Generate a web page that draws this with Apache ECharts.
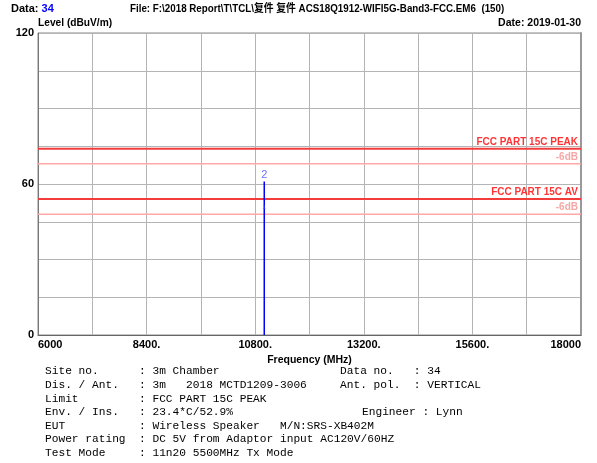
<!DOCTYPE html>
<html><head><meta charset="utf-8">
<script src="https://cdn.jsdelivr.net/npm/echarts@6/dist/echarts.min.js"></script>
<style>html,body{margin:0;padding:0;background:#fff}#c{width:597px;height:463px}</style>
</head><body><div id="c"></div>
<script>
// ---- data ----
const xMin = 6000, xMax = 18000, xStep = 1200;
const xTickLabels = {6000:'6000', 8400:'8400.', 10800:'10800.', 13200:'13200.', 15600:'15600.', 18000:'18000'};
const yMin = 0, yMax = 120, yStep = 15;
const yTickLabels = {0:'0', 60:'60', 120:'120'};
const limitNames = ['FCC PART 15C PEAK', 'FCC PART 15C AV'];
const limitValues = [74, 54];
const marginOffset = -6;
const marginLabel = '-6dB';
const spikeFreq = [11000, 11000];
const spikeLevels = [49.5, 61];
const markerNames = ['1', '2'];
const headerData = '34';
const headerFile = 'File: F:\\2018 Report\\T\\TCL\\复件 复件 ACS18Q1912-WIFI5G-Band3-FCC.EM6  (150)';
const headerDate = 'Date: 2019-01-30';
const infoLeft = [
  'Site no.      : 3m Chamber',
  'Dis. / Ant.   : 3m   2018 MCTD1209-3006',
  'Limit         : FCC PART 15C PEAK',
  'Env. / Ins.   : 23.4*C/52.9%',
  'EUT           : Wireless Speaker   M/N:SRS-XB402M',
  'Power rating  : DC 5V from Adaptor input AC120V/60HZ',
  'Test Mode     : 11n20 5500MHz Tx Mode'
];
const infoRight = [['Data no.   : 34', 0], ['Ant. pol.  : VERTICAL', 1], ['Engineer : Lynn', 3]];

// ---- chart ----
const chart = echarts.init(document.getElementById('c'));
const F = '"Liberation Sans", Arial, "Noto Sans CJK SC", sans-serif';
const MONO = '11.2px "Liberation Mono", "Courier New", monospace';
const series = [];
limitValues.forEach((v, i) => {
  series.push({type:'line', data:[[xMin, v],[xMax, v]], symbol:'none', silent:true,
    lineStyle:{color:'#f23c3c', width:2}, z:3});
  series.push({type:'line', data:[[xMin, v+marginOffset],[xMax, v+marginOffset]], symbol:'none', silent:true,
    lineStyle:{color:'#ffa8a8', width:1.5}, z:3});
  series.push({type:'scatter', symbolSize:0, silent:true, z:6,
    data:[[xMax, v]], label:{show:true, formatter:limitNames[i], position:'top', align:'right',
      offset:[-3, 3], color:'#ff0000', fontFamily:F, fontWeight:'bold', fontSize:10}});
  series.push({type:'scatter', symbolSize:0, silent:true, z:6,
    data:[[xMax, v+marginOffset]], label:{show:true, formatter:marginLabel, position:'top', align:'right',
      offset:[-3, 3], color:'#f59090', fontFamily:F, fontWeight:'bold', fontSize:10}});
});
series.push({type:'line', data:[[spikeFreq[1], 0],[spikeFreq[1], spikeLevels[1]]], symbol:'none', silent:true,
  lineStyle:{color:'#0000ff', width:1.5}, z:5});
series.push({type:'scatter', symbolSize:0, silent:true, z:7,
  data: spikeFreq.map((f, i) => ({value:[f, spikeLevels[i]],
    label:{formatter:markerNames[i], fontSize: i === 0 ? 6 : 11, distance: i === 0 ? 0 : 1}})),
  label:{show:true, position:'top', distance:1, color:'#4a4aff', fontFamily:F, fontSize:11}});

const option = {
  animation:false,
  backgroundColor:'#fff',
  grid:{left:38, right:16, top:33, bottom:128, show:true, borderColor:'#8a8a8a', borderWidth:1},
  xAxis:{type:'value', min:xMin, max:xMax, interval:xStep,
    axisLine:{show:true, lineStyle:{color:'#666', width:1}}, axisTick:{show:false},
    splitLine:{show:true, lineStyle:{color:'#b4b4b4', width:1}},
    axisLabel:{formatter:v => xTickLabels[v] || '', color:'#000', fontFamily:F, fontWeight:'bold', fontSize:11,
      margin:4, alignMinLabel:'left', alignMaxLabel:'right'},
    name:'Frequency (MHz)', nameLocation:'middle', nameGap:19,
    nameTextStyle:{color:'#000', fontFamily:F, fontWeight:'bold', fontSize:10.5}},
  yAxis:[{type:'value', min:yMin, max:yMax, interval:yStep,
    axisLine:{show:true, lineStyle:{color:'#777', width:1}}, axisTick:{show:false},
    splitLine:{show:true, lineStyle:{color:'#b4b4b4', width:1}},
    axisLabel:{formatter:v => yTickLabels[v] || '', color:'#000', fontFamily:F, fontWeight:'bold', fontSize:11,
      margin:4, verticalAlign:'middle'}},
    {type:'value', min:yMin, max:yMax, position:'right', axisLine:{show:true, lineStyle:{color:'#999', width:2}},
     axisTick:{show:false}, axisLabel:{show:false}, splitLine:{show:false}}],
  series:series,
  graphic:[
    {type:'text', left:11, top:3, style:{rich:{a:{fontFamily:F, fontWeight:'bold', fontSize:11, fill:'#000'}, b:{fontFamily:F, fontWeight:'bold', fontSize:11, fill:'#0000ff'}}, text:'{a|Data: }{b|' + headerData + '}'}},
    {type:'text', x:130, y:3, scaleX:0.89, style:{text:headerFile, font:'bold 11px ' + F, fill:'#000'}},
    {type:'text', left:38, top:18, style:{text:'Level (dBuV/m)', font:'bold 10.2px ' + F, fill:'#000'}},
    {type:'text', right:16, top:18, style:{text:headerDate, font:'bold 10.5px ' + F, fill:'#000', textAlign:'right'}},
  ].concat(infoLeft.map((t, i) => ({type:'text', left:45, top:366 + i*13.6,
      style:{text:t, font:MONO, fill:'#000'}})))
   .concat(infoRight.map(([t, r]) => ({type:'text', left: r === 3 ? 362 : 340, top:366 + r*13.6,
      style:{text:t, font:MONO, fill:'#000'}})))
};
chart.setOption(option);
</script></body></html>
